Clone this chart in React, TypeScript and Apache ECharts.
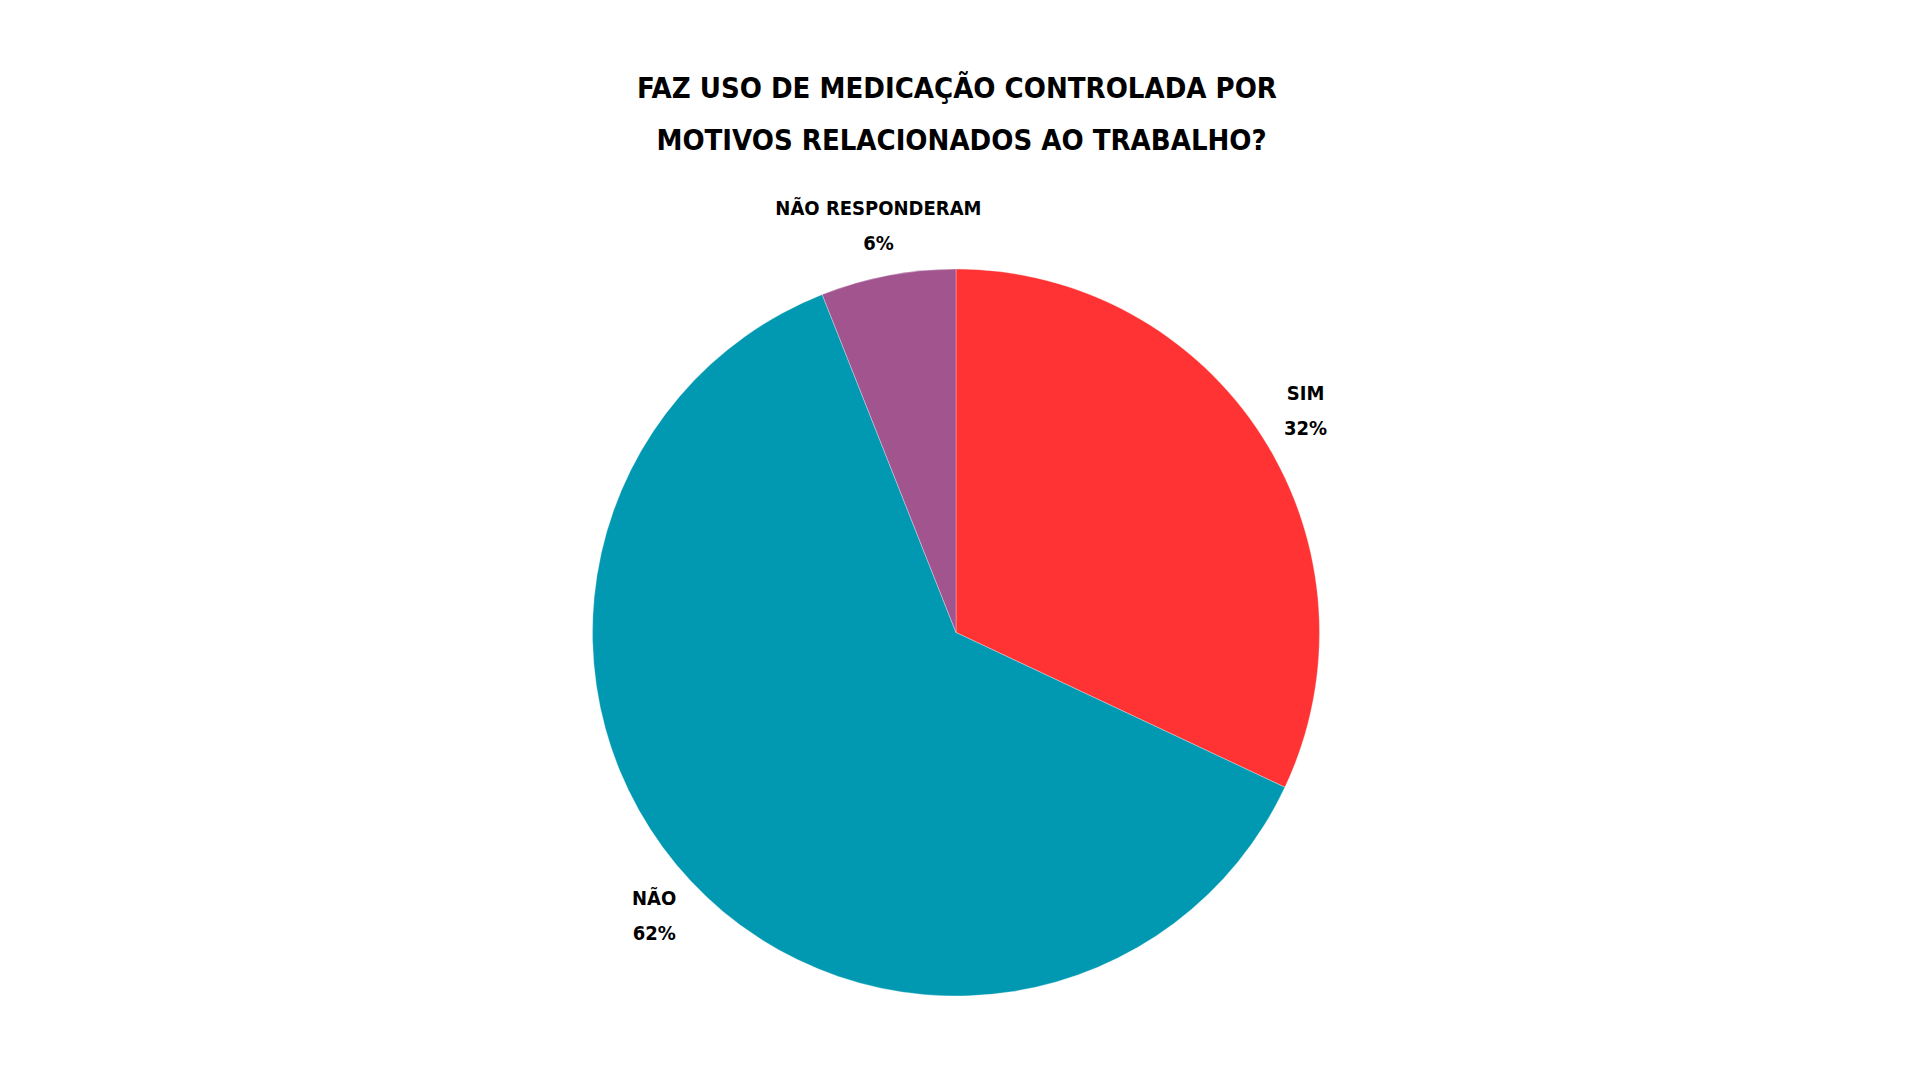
import React, { useEffect, useRef } from "react";
import * as echarts from "echarts";

const titleText = "FAZ USO DE MEDICAÇÃO CONTROLADA POR\n MOTIVOS RELACIONADOS AO TRABALHO?";
const categories = ["SIM", "NÃO", "NÃO RESPONDERAM"];
const values = [32, 62, 6];
const colors = ["#FF3333", "#0099B1", "#A1548E"];

const FONT = "'DejaVu Sans Condensed', 'DejaVu Sans', sans-serif";

export default function App() {
  const ref = useRef<HTMLDivElement>(null);
  useEffect(() => {
    if (!ref.current) return;
    const chart = echarts.init(ref.current, undefined, { renderer: "svg" });
    const cx = 956;
    const cy = 632.5;
    const r = 363.5;
    const labelR = 414;
    const total = values.reduce((a, b) => a + b, 0);
    const mids: number[] = [];
    let acc = 0;
    values.forEach((v) => {
      mids.push(((acc + v / 2) / total) * Math.PI * 2);
      acc += v;
    });
    chart.setOption({
      animation: false,
      backgroundColor: "#ffffff",
      title: {
        text: titleText,
        left: 952,
        textAlign: "center",
        top: 57,
        textStyle: {
          fontFamily: FONT,
          fontWeight: "bold",
          fontSize: 29,
          lineHeight: 52,
          color: "#000",
        },
      },
      series: [
        {
          type: "pie",
          center: [cx, cy],
          radius: r,
          startAngle: 90,
          clockwise: true,
          data: categories.map((c, i) => ({
            name: c,
            value: values[i],
            itemStyle: { color: colors[i] },
          })),
          itemStyle: { borderWidth: 0.5, borderColor: "rgba(255,255,255,0.6)" },
          label: {
            show: true,
            position: "outside",
            formatter: "{b}\n{c}%",
            fontFamily: FONT,
            fontWeight: "bold",
            fontSize: 20,
            lineHeight: 35,
            color: "#000",
            align: "center",
          },
          labelLine: { show: false, length: 0, length2: 0 },
          labelLayout: (p: any) => {
            const a = mids[p.dataIndex];
            return {
              x: cx + labelR * Math.sin(a),
              y: cy - labelR * Math.cos(a),
              align: "center",
              verticalAlign: "middle",
            };
          },
          emphasis: { disabled: true },
        },
      ],
    });
    return () => chart.dispose();
  }, []);
  return (
    <div
      ref={ref}
      style={{ position: "fixed", left: 0, top: 0, width: 1920, height: 1080, background: "#fff" }}
    />
  );
}
